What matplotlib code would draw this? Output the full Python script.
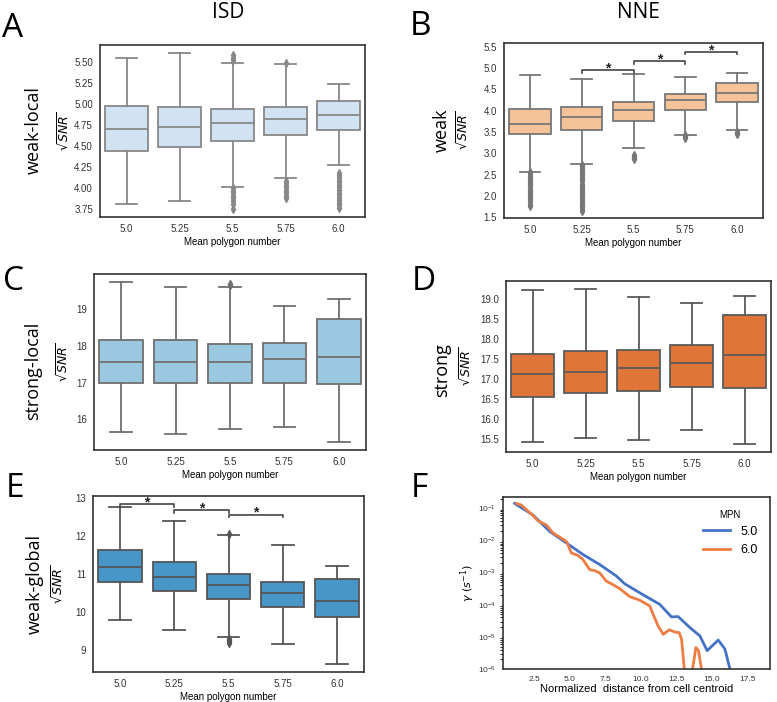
import matplotlib
matplotlib.use('Agg')
import matplotlib.pyplot as plt
import numpy as np

plt.rcParams['font.family'] = ['Liberation Sans', 'DejaVu Sans']
plt.rcParams['mathtext.fontset'] = 'dejavusans'

# categories on x (mean polygon number)
mpn = ['5.0', '5.25', '5.5', '5.75', '6.0']

# box stats per panel: lower whisker, q1, median, q3, upper whisker
A_lo = [3.81, 3.85, 4.01, 4.12, 4.28]
A_q1 = [4.44, 4.49, 4.56, 4.63, 4.69]
A_med = [4.70, 4.73, 4.78, 4.82, 4.87]
A_q3 = [4.98, 4.97, 4.94, 4.97, 5.03]
A_hi = [5.54, 5.61, 5.49, 5.47, 5.24]
A_fliers = [[], [],
            [3.75, 3.82, 3.85, 3.88, 3.91, 3.94, 3.97, 4.0, 5.52, 5.55, 5.58],
            [3.88, 3.91, 3.94, 3.97, 4.0, 4.03, 4.06, 4.09, 5.49],
            [3.77, 3.80, 3.83, 3.86, 3.89, 3.92, 3.95, 3.98, 4.01, 4.04, 4.07, 4.10, 4.13, 4.16, 4.18]]

B_lo = [2.57, 2.75, 3.12, 3.44, 3.55]
B_q1 = [3.45, 3.55, 3.75, 4.02, 4.20]
B_med = [3.68, 3.86, 4.01, 4.24, 4.42]
B_q3 = [4.03, 4.08, 4.20, 4.39, 4.66]
B_hi = [4.84, 4.75, 4.86, 4.78, 4.88]
B_fliers = [[1.77, 1.82, 1.87, 1.92, 1.97, 2.02, 2.07, 2.12, 2.17, 2.22, 2.27, 2.32, 2.37, 2.42, 2.47, 2.52, 2.55],
            [1.64, 1.69, 1.74, 1.79, 1.84, 1.89, 1.94, 1.99, 2.04, 2.09, 2.14, 2.19, 2.24, 2.29, 2.34,
             2.39, 2.44, 2.49, 2.54, 2.59, 2.64, 2.69, 2.73],
            [2.87, 2.90, 2.93, 2.96],
            [3.37, 3.40, 3.42],
            [3.45, 3.48, 3.51]]
B_sig = [(1, 2, 4.95), (2, 3, 5.16), (3, 4, 5.38)]

C_lo = [15.65, 15.60, 15.74, 15.78, 15.37]
C_q1 = [16.98, 16.98, 17.00, 17.00, 16.95]
C_med = [17.57, 17.56, 17.55, 17.65, 17.71]
C_q3 = [18.15, 18.15, 18.04, 18.09, 18.72]
C_hi = [19.73, 19.60, 19.60, 19.09, 19.28]
C_fliers = [[], [], [19.66, 19.70], [], []]

D_lo = [15.43, 15.53, 15.49, 15.74, 15.39]
D_q1 = [16.55, 16.65, 16.71, 16.81, 16.78]
D_med = [17.12, 17.19, 17.27, 17.42, 17.61]
D_q3 = [17.64, 17.72, 17.74, 17.87, 18.61]
D_hi = [19.24, 19.27, 19.07, 18.92, 19.09]
D_fliers = [[], [], [], [], []]

E_lo = [9.79, 9.53, 9.35, 9.17, 8.65]
E_q1 = [10.80, 10.56, 10.35, 10.14, 9.88]
E_med = [11.19, 10.93, 10.71, 10.51, 10.28]
E_q3 = [11.63, 11.30, 11.01, 10.78, 10.86]
E_hi = [12.74, 12.38, 12.01, 11.75, 11.21]
E_fliers = [[], [], [9.20, 9.23, 9.26, 9.29, 12.05], [], []]
E_sig = [(0, 1, 12.83), (1, 2, 12.67), (2, 3, 12.55)]

# panel F: decay rate vs normalized distance
F5_x = [1.14, 2.43, 3.60, 4.78, 5.95, 7.12, 8.30, 8.88, 9.94, 11.35, 12.17, 12.64,
        13.46, 14.17, 14.68, 15.46, 15.93, 16.28, 16.6]
F5_y = [0.141, 0.0617, 0.0191, 0.00832, 0.00363, 0.00178, 7.76e-4, 4.47e-4, 2.34e-4,
        1.02e-4, 4.17e-5, 4.27e-5, 1.95e-5, 1.07e-5, 3.72e-6, 7.94e-6, 4.17e-6, 1e-6, 3.2e-7]
F6_x = [1.26, 1.61, 2.43, 2.78, 3.37, 3.84, 4.43, 4.78, 5.13, 5.60, 5.95, 6.42, 6.77,
        7.12, 7.59, 7.95, 8.53, 9.24, 9.94, 10.65, 10.88, 11.23, 11.59, 12.01, 12.41,
        12.71, 12.88, 13.06, 13.2, 13.5, 13.65, 13.89, 14.07, 14.28, 14.4]
F6_y = [0.141, 0.126, 0.0589, 0.0407, 0.0302, 0.0170, 0.0117, 0.00933, 0.00407,
        0.00339, 0.00251, 0.00123, 0.00115, 9.77e-4, 5.37e-4, 4.47e-4, 3.16e-4,
        1.78e-4, 1.38e-4, 9.12e-5, 5.01e-5, 2.19e-5, 1.20e-5, 1.66e-5, 1.41e-5,
        1.35e-5, 8.51e-6, 1.12e-6, 1e-8, 1e-8, 1e-6, 4.68e-6, 3.72e-6, 1e-6, 1e-8]

W, H = 777, 702
fig = plt.figure(figsize=(W / 100, H / 100), dpi=100)


def add_ax(l, t, r, b):
    return fig.add_axes([l / W, 1 - b / H, (r - l) / W, (b - t) / H])


def style(ax):
    for s in ax.spines.values():
        s.set_color('#333333')
        s.set_linewidth(1.2)
    ax.tick_params(length=0, labelsize=7, labelcolor='#333333', pad=5)


def boxes(ax, lo, q1, med, q3, hi, fliers, fill, edge):
    stats = []
    for i in range(len(mpn)):
        stats.append(dict(whislo=lo[i], q1=q1[i], med=med[i], q3=q3[i],
                          whishi=hi[i], fliers=fliers[i]))
    ax.bxp(stats, positions=range(len(mpn)), widths=0.8, patch_artist=True,
           showfliers=True, capwidths=0.4,
           boxprops=dict(facecolor=fill, edgecolor=edge, linewidth=1.3),
           medianprops=dict(color=edge, linewidth=1.3),
           whiskerprops=dict(color=edge, linewidth=1.3),
           capprops=dict(color=edge, linewidth=1.3),
           flierprops=dict(marker='d', markersize=4, markerfacecolor=edge,
                           markeredgecolor=edge))
    ax.set_xlim(-0.5, 4.5)
    ax.set_xticks(range(len(mpn)))
    ax.set_xticklabels(mpn)
    ax.set_xlabel('Mean polygon number', fontsize=7, labelpad=2)
    ax.set_ylabel(r'$\sqrt{SNR}$', fontsize=9)
    style(ax)


def sig(ax, pairs, tick):
    for a, b, y in pairs:
        ax.plot([a, a, b, b], [y - tick, y, y, y - tick], color='#444444', lw=1.2)
        ax.annotate('*', xy=((a + b) / 2, y), xytext=(0, -1.5), textcoords='offset points',
                    ha='center', va='baseline', fontsize=10, fontweight='bold',
                    color='#222222')


axA = add_ax(100, 45, 365, 217)
boxes(axA, A_lo, A_q1, A_med, A_q3, A_hi, A_fliers, '#d1e2f2', '#888888')
axA.set_ylim(3.66, 5.70)
axA.set_yticks([3.75, 4.0, 4.25, 4.5, 4.75, 5.0, 5.25, 5.5])
axA.set_yticklabels(['%.2f' % v for v in axA.get_yticks()])
axA.yaxis.set_label_coords(-0.107, 0.5)

axB = add_ax(504, 43, 763, 218)
boxes(axB, B_lo, B_q1, B_med, B_q3, B_hi, B_fliers, '#f4c398', '#777777')
sig(axB, B_sig, 0.06)
axB.set_ylim(1.48, 5.59)
axB.set_yticks([1.5, 2.0, 2.5, 3.0, 3.5, 4.0, 4.5, 5.0, 5.5])
axB.set_yticklabels(['%.1f' % v for v in axB.get_yticks()])
axB.yaxis.set_label_coords(-0.127, 0.5)

axC = add_ax(94, 274, 366, 450)
boxes(axC, C_lo, C_q1, C_med, C_q3, C_hi, C_fliers, '#9ac8e0', '#707070')
axC.set_ylim(15.16, 19.96)
axC.set_yticks([16, 17, 18, 19])
axC.yaxis.set_label_coords(-0.085, 0.5)

axD = add_ax(506, 281, 771, 452)
boxes(axD, D_lo, D_q1, D_med, D_q3, D_hi, D_fliers, '#e07539', '#5a5a5a')
axD.set_ylim(15.18, 19.46)
axD.set_yticks([15.5, 16.0, 16.5, 17.0, 17.5, 18.0, 18.5, 19.0])
axD.set_yticklabels(['%.1f' % v for v in axD.get_yticks()])
axD.yaxis.set_label_coords(-0.121, 0.5)

axE = add_ax(93, 496, 364, 672)
boxes(axE, E_lo, E_q1, E_med, E_q3, E_hi, E_fliers, '#4896c8', '#555555')
sig(axE, E_sig, 0.07)
axE.set_ylim(8.43, 13.04)
axE.set_yticks([9, 10, 11, 12, 13])
axE.yaxis.set_label_coords(-0.10, 0.5)

axF = add_ax(503, 497, 770, 669)
axF.plot(F5_x, F5_y, color='#4472c4', lw=2, label='5.0')
axF.plot(F6_x, F6_y, color='#ed7d45', lw=2, label='6.0')
axF.set_yscale('log')
axF.set_xlim(0.32, 19.1)
axF.set_ylim(1e-6, 0.224)
axF.set_xticks([2.5, 5.0, 7.5, 10.0, 12.5, 15.0, 17.5])
axF.set_xlabel('Normalized  distance from cell centroid', fontsize=8, labelpad=1)
axF.set_ylabel(r'$\gamma\ (s^{-1})$', fontsize=8)
axF.yaxis.set_label_coords(-0.097, 0.5)
style(axF)
axF.tick_params(labelsize=6, which='both')
leg = axF.legend(title='MPN', frameon=False, loc='upper right', fontsize=9,
                 title_fontsize=7, handlelength=2.2, borderaxespad=0.6)

# panel letters, column titles, row labels
big = ['Open Sans', 'DejaVu Sans']
for s, x, y in [('A', 2, 37), ('B', 410, 35), ('C', 3, 290), ('D', 412, 290),
                ('E', 6, 497), ('F', 411, 497)]:
    fig.text(x / W, 1 - y / H, s, fontsize=24, family=big, va='baseline')
fig.text(228 / W, 1 - 18 / H, 'ISD', fontsize=15, family=big, ha='center', va='baseline')
fig.text(638 / W, 1 - 18 / H, 'NNE', fontsize=15, family=big, ha='center', va='baseline')
for s, x, y in [('weak-local', 34, 130), ('weak', 442, 130), ('strong-local', 33, 371),
                ('strong', 442, 370), ('weak-global', 35, 584)]:
    fig.text(x / W, 1 - y / H, s, fontsize=13, family=big, rotation=90,
             ha='center', va='center')

fig.savefig('out.png', dpi=100)
